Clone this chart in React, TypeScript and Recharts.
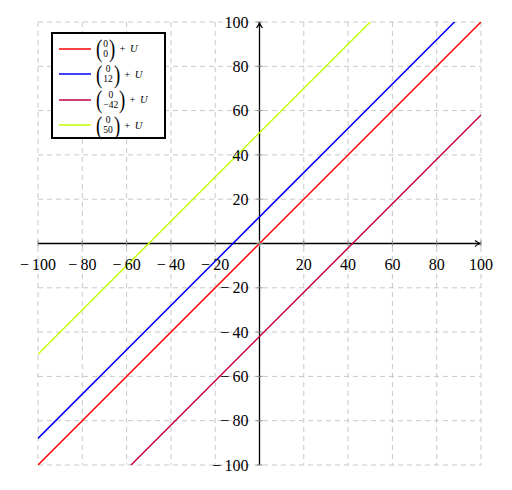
import React from "react";
import {
  LineChart,
  Line,
  XAxis,
  YAxis,
  CartesianGrid,
  ReferenceLine,
  ReferenceDot,
} from "recharts";

// endpoints of each line, x = -100 .. 100
const xs = [-100, 100];
const redY = [-100, 100];
const blueY = [-88, 112];
const purpleY = [-142, 58];
const limeY = [-50, 150];

const ticks = [-100, -80, -60, -40, -20, 0, 20, 40, 60, 80, 100];

const series = [
  { name: "red", color: "#ff0000", ys: redY, top: "0", bottom: "0" },
  { name: "blue", color: "#0000ff", ys: blueY, top: "0", bottom: "12" },
  { name: "purple", color: "#bf0040", ys: purpleY, top: "0", bottom: "\u221242" },
  { name: "lime", color: "#bfff00", ys: limeY, top: "0", bottom: "50" },
];

const toData = (ys: number[]) => xs.map((x, i) => ({ x, y: ys[i] }));

const W = 504;
const H = 482;
// plot area: left 30, top 14, 443 x 443 (axes take 1px each)
const M = { top: 14, left: 29, right: 31, bottom: 24 };
const PL = 30;
const PT = 14;
const PW = 443;
const PH = 443;
const CX = PL + PW / 2;
const CY = PT + PH / 2;

const font = "'Liberation Serif', 'DejaVu Serif', serif";

const fmt = (v: number) => (v < 0 ? "\u2212\u2009" + Math.abs(v) : String(v));

const XTick = (props: any) => {
  const { x, payload } = props;
  const v = payload.value;
  return (
    <g>
      <line x1={x} x2={x} y1={CY - 3} y2={CY + 3} stroke="#888" />
      {v !== 0 && (
        <text x={x} y={CY + 26} textAnchor="middle" fontSize={16} fontFamily={font} fill="#000">
          {fmt(v)}
        </text>
      )}
    </g>
  );
};

const YTick = (props: any) => {
  const { y, payload } = props;
  const v = payload.value;
  return (
    <g>
      <line x1={CX - 3} x2={CX + 3} y1={y} y2={y} stroke="#888" />
      {v !== 0 && (
        <text x={CX - 11} y={y} dy="0.35em" textAnchor="end" fontSize={16} fontFamily={font} fill="#000">
          {fmt(v)}
        </text>
      )}
    </g>
  );
};

const ArrowUp = (props: any) => {
  const { cx, cy } = props;
  return (
    <path
      d={`M${cx - 3},${cy + 6} Q${cx},${cy + 2} ${cx},${cy} Q${cx},${cy + 2} ${cx + 3},${cy + 6}`}
      stroke="#000"
      strokeWidth={1.2}
      fill="none"
    />
  );
};

const ArrowRight = (props: any) => {
  const { cx, cy } = props;
  return (
    <path
      d={`M${cx - 6},${cy - 3} Q${cx - 2},${cy} ${cx},${cy} Q${cx - 2},${cy} ${cx - 6},${cy + 3}`}
      stroke="#000"
      strokeWidth={1.2}
      fill="none"
    />
  );
};

const LegendBox = () => (
  <div
    style={{
      position: "absolute",
      left: 43,
      top: 24,
      border: "2px solid #000",
      background: "#fff",
      width: 111,
      height: 103,
      fontFamily: font,
    }}
  >
    {series.map((s, i) => (
      <div
        key={s.name}
        style={{ display: "flex", alignItems: "center", height: 25.5, paddingLeft: 6, marginTop: i === 0 ? 2 : 0 }}
      >
        <svg width={32} height={4} style={{ display: "block" }}>
          <line x1={0} x2={32} y1={2} y2={2} stroke={s.color} strokeWidth={1.5} />
        </svg>
        <span style={{ display: "inline-flex", alignItems: "center", marginLeft: 4 }}>
          <span style={{ fontSize: 25, lineHeight: "25px", display: "inline-block", transform: "scaleX(0.75)" }}>(</span>
          <span
            style={{
              display: "inline-flex",
              flexDirection: "column",
              alignItems: "center",
              fontSize: 9.5,
              lineHeight: "10px",
            }}
          >
            <span>{s.top}</span>
            <span>{s.bottom}</span>
          </span>
          <span style={{ fontSize: 25, lineHeight: "25px", display: "inline-block", transform: "scaleX(0.75)" }}>)</span>
          <span style={{ fontSize: 10.5, marginLeft: 3, wordSpacing: 2 }}>
            + <i>U</i>
          </span>
        </span>
      </div>
    ))}
  </div>
);

export default function App() {
  return (
    <div style={{ width: W, height: H, position: "relative" }}>
      <LineChart width={W} height={H} margin={M}>
        <CartesianGrid stroke="#c8c8c8" strokeDasharray="5 4" />
        <XAxis
          type="number"
          dataKey="x"
          domain={[-100, 100]}
          ticks={ticks}
          allowDataOverflow
          axisLine={false}
          tickLine={false}
          height={1}
          tick={<XTick />}
          interval={0}
        />
        <YAxis
          type="number"
          dataKey="y"
          domain={[-100, 100]}
          ticks={ticks}
          allowDataOverflow
          axisLine={false}
          tickLine={false}
          width={1}
          tick={<YTick />}
          interval={0}
        />
        <ReferenceLine y={0} stroke="#000" strokeWidth={1.3} />
        <ReferenceLine x={0} stroke="#000" strokeWidth={1.3} />
        {series.map((s) => (
          <Line
            key={s.name}
            data={toData(s.ys)}
            dataKey="y"
            type="linear"
            stroke={s.color}
            strokeWidth={1.5}
            dot={false}
            activeDot={false}
            isAnimationActive={false}
          />
        ))}
        <ReferenceDot x={0} y={100} r={0} shape={<ArrowUp />} />
        <ReferenceDot x={100} y={0} r={0} shape={<ArrowRight />} />
      </LineChart>
      <LegendBox />
    </div>
  );
}
